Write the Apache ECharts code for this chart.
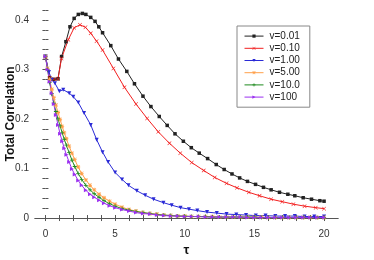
<!DOCTYPE html>
<html>
<head>
<meta charset="utf-8">
<script src="https://cdn.jsdelivr.net/npm/echarts@6/dist/echarts.min.js"></script>
<style>html,body{margin:0;padding:0;background:#fff}#c{width:374px;height:260px}</style>
</head>
<body>
<div id="c"></div>
<script>
// ---- data ----
const seriesNames = ['v=0.01', 'v=0.10', 'v=1.00', 'v=5.00', 'v=10.0', 'v=100'];

const tauA = [0,0.3,0.6,0.9,1.16,1.47,1.76,2.06,2.36,2.65,2.9,3.25,3.56,3.83,4.1,4.69,5.24,5.84,6.39,7.0,7.57,8.17,8.74,9.3,9.9,10.47,11.04,11.64,12.26,12.83,13.39,13.94,14.5,15.08,15.65,16.2,16.8,17.4,17.9,18.5,19.1,19.7,20];
const valA = [0.326,0.283,0.280,0.281,0.326,0.356,0.386,0.403,0.411,0.413,0.411,0.405,0.397,0.386,0.374,0.348,0.321,0.296,0.271,0.246,0.225,0.205,0.187,0.170,0.155,0.142,0.131,0.120,0.108,0.098,0.089,0.081,0.074,0.068,0.062,0.057,0.052,0.048,0.045,0.041,0.038,0.035,0.034];

const tauB = [0,0.3,0.6,0.9,1.15,1.64,2.06,2.48,2.87,3.25,3.67,4.1,4.88,5.67,6.5,7.3,8.1,8.9,9.68,10.5,11.36,12.15,13.0,13.75,14.6,15.37,16.2,17.0,17.8,18.6,19.4,20];
const valB = [0.326,0.283,0.280,0.281,0.322,0.360,0.384,0.390,0.385,0.373,0.357,0.339,0.302,0.264,0.230,0.201,0.174,0.151,0.131,0.112,0.096,0.082,0.070,0.061,0.052,0.045,0.038,0.033,0.028,0.024,0.021,0.019];

const tauC = [0,0.25,0.45,0.68,1.0,1.28,1.71,2.0,2.36,2.77,3.25,3.68,4.1,4.5,5.0,5.5,5.96,6.56,7.16,7.76,8.47,9.06,9.7,10.3,10.9,11.6,12.3,13.0,13.7,14.4,15.1,15.8,16.5,17.2,17.9,18.6,19.3,20];
const valC = [0.326,0.295,0.279,0.272,0.256,0.259,0.252,0.245,0.233,0.212,0.188,0.158,0.133,0.113,0.092,0.078,0.066,0.055,0.046,0.038,0.031,0.026,0.021,0.018,0.015,0.012,0.010,0.008,0.007,0.006,0.005,0.005,0.004,0.004,0.004,0.003,0.003,0.003];

const tauFast = [0,0.15,0.3,0.45,0.6,0.75,0.9,1.05,1.2,1.35,1.5,1.7,1.9,2.1,2.35,2.6,2.9,3.2,3.5,3.85,4.2,4.6,5.0,5.5,6.0,6.5,7.0,7.5,8.0,8.5,9.0,9.5,10,10.5,11,11.5,12,12.5,13,13.5,14,14.5,15,15.5,16,16.5,17,17.5,18,18.5,19,19.5,20];
const valD = [0.326,0.302,0.280,0.260,0.243,0.228,0.213,0.199,0.185,0.172,0.160,0.145,0.131,0.118,0.103,0.090,0.077,0.066,0.057,0.048,0.041,0.034,0.028,0.022,0.017,0.014,0.011,0.009,0.008,0.006,0.005,0.004,0.004,0.003,0.003,0.003,0.003,0.002,0.002,0.002,0.002,0.002,0.002,0.002,0.001,0.001,0.001,0.001,0.001,0.001,0.001,0.001,0.001];
const valE = [0.326,0.300,0.274,0.251,0.232,0.215,0.200,0.186,0.172,0.159,0.147,0.132,0.117,0.104,0.090,0.078,0.066,0.057,0.049,0.042,0.035,0.029,0.024,0.019,0.016,0.013,0.011,0.009,0.007,0.006,0.005,0.004,0.004,0.003,0.003,0.003,0.002,0.002,0.002,0.002,0.002,0.002,0.002,0.001,0.001,0.001,0.001,0.001,0.001,0.001,0.001,0.001,0.001];
const valF = [0.326,0.300,0.275,0.252,0.230,0.208,0.188,0.170,0.155,0.141,0.128,0.113,0.099,0.088,0.076,0.066,0.056,0.048,0.042,0.036,0.030,0.025,0.021,0.017,0.014,0.011,0.009,0.008,0.006,0.005,0.004,0.004,0.003,0.003,0.003,0.002,0.002,0.002,0.002,0.002,0.002,0.001,0.001,0.001,0.001,0.001,0.001,0.001,0.001,0.001,0.001,0.001,0.001];

const xTicks = [0,1,2,3,4,5,6,7,8,9,10,11,12,13,14,15,16,17,18,19,20];
const xLabels = [0,5,10,15,20];
const yTicks = [0,0.02,0.04,0.06,0.08,0.1,0.12,0.14,0.16,0.18,0.2,0.22,0.24,0.26,0.28,0.3,0.32,0.34,0.36,0.38,0.4,0.42];
const yLabels = [0,0.1,0.2,0.3,0.4];

// ---- styling ----
const FONT = 'Liberation Sans, Arial, sans-serif';
const pts = (t, v) => t.map((x, i) => [x, v[i]]);
const xPath = 'path://M0,1L1,0L5,4L9,0L10,1L6,5L10,9L9,10L5,6L1,10L0,9L4,5Z';
const plusPath = 'path://M4,0L6,0L6,4L10,4L10,6L6,6L6,10L4,10L4,6L0,6L0,4L4,4Z';
const starPath = 'path://M4,0L6,0L6,4L10,4L10,6L6,6L6,10L4,10L4,6L0,6L0,4L4,4ZM0,1L1,0L5,4L9,0L10,1L6,5L10,9L9,10L5,6L1,10L0,9L4,5Z';

const defs = [
  {data: pts(tauA, valA), color: '#222222', symbol: 'rect', size: 3.5, rot: 0},
  {data: pts(tauB, valB), color: '#f21f1f', symbol: xPath, size: 4, rot: 0},
  {data: pts(tauC, valC), color: '#2a2ad6', symbol: 'triangle', size: 4, rot: 180},
  {data: pts(tauFast, valD), color: '#ffa04a', symbol: starPath, size: 4, rot: 0},
  {data: pts(tauFast, valE), color: '#1f8a1f', symbol: plusPath, size: 4, rot: 0},
  {data: pts(tauFast, valF), color: '#9b30f0', symbol: 'triangle', size: 4, rot: -90}
];

const series = defs.map((d, i) => ({
  name: seriesNames[i],
  type: 'line',
  data: d.data,
  symbol: d.symbol,
  symbolSize: d.size,
  symbolRotate: d.rot,
  showAllSymbol: true,
  lineStyle: {width: 1, color: d.color},
  itemStyle: {color: d.color},
  animation: false
}));

const axisCol = '#555';
const chart = echarts.init(document.getElementById('c'), null, {renderer: 'canvas'});
chart.setOption({
  animation: false,
  grid: {left: 35, right: 36, top: 5, bottom: 37, containLabel: false, outerBoundsMode: 'none'},
  legend: {
    orient: 'vertical', left: 237, top: 26,
    padding: [4, 10, 4, 7],
    itemWidth: 19, itemHeight: 4, itemGap: 0,
    lineStyle: {width: 1},
    itemStyle: {borderWidth: 0},
    borderColor: '#888', borderWidth: 1,
    textStyle: {fontFamily: FONT, fontSize: 10, color: '#222', lineHeight: 12.2, padding: [0, 0, 0, 1]},
    data: seriesNames
  },
  xAxis: [
    {type: 'value', position: 'bottom', min: -0.75, max: 21,
     name: 'τ', nameLocation: 'middle', nameGap: 21, nameMoveOverlap: false,
     nameTextStyle: {fontFamily: FONT, fontSize: 13, fontWeight: 'bold', color: '#111'},
     axisLine: {show: true, lineStyle: {color: axisCol, width: 1}},
     axisTick: {show: true, inside: false, length: 3, customValues: xTicks, lineStyle: {color: axisCol}},
     axisLabel: {customValues: xLabels, margin: 6, fontFamily: FONT, fontSize: 10, color: '#333'},
     splitLine: {show: false}},
    {type: 'value', position: 'top', min: -0.75, max: 21,
     axisLine: {show: true, lineStyle: {color: axisCol, width: 1}},
     axisTick: {show: true, inside: false, length: 3, customValues: xTicks, lineStyle: {color: axisCol}},
     axisLabel: {show: false},
     splitLine: {show: false}}
  ],
  yAxis: [
    {type: 'value', position: 'left', min: -0.01, max: 0.43,
     name: 'Total Correlation', nameLocation: 'middle', nameGap: 18, nameMoveOverlap: false,
     nameTextStyle: {fontFamily: FONT, fontSize: 12, fontWeight: 'bold', color: '#111'},
     axisLine: {show: false},
     axisTick: {show: true, inside: false, length: 3, customValues: yTicks, lineStyle: {color: axisCol}},
     axisLabel: {customValues: yLabels, margin: 6, fontFamily: FONT, fontSize: 10, color: '#333',
       formatter: v => (v === 0 ? '0' : v.toFixed(1))},
     splitLine: {show: false}},
    {type: 'value', position: 'right', min: -0.01, max: 0.43,
     axisLine: {show: false},
     axisTick: {show: true, inside: false, length: 3, customValues: yTicks, lineStyle: {color: axisCol}},
     axisLabel: {show: false},
     splitLine: {show: false}}
  ],
  series: series
});
</script>
</body>
</html>
